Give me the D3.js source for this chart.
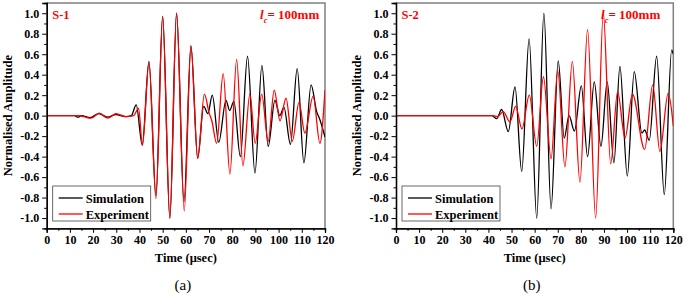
<!DOCTYPE html>
<html>
<head>
<meta charset="utf-8">
<script src="https://cdn.jsdelivr.net/npm/d3@7"></script>
<style>
  body { margin: 0; background: #fff; }
  svg { display: block; }
  text { font-family: "Times New Roman", "Liberation Serif", serif; }
</style>
</head>
<body>
<div id="chart"></div>
<script>
// tick labels and legend names
var xTicks = [0, 10, 20, 30, 40, 50, 60, 70, 80, 90, 100, 110, 120];
var yTicks = [-1.0, -0.8, -0.6, -0.4, -0.2, 0.0, 0.2, 0.4, 0.6, 0.8, 1.0];
var seriesNames = ["Simulation", "Experiment"];
var panelTags = ["S-1", "S-2"];
var captions = ["(a)", "(b)"];

// [time (usec), normalised amplitude] read at the turning points of each trace
var sim1 = [[0,0],[12,0],[13.5,-0.015],[15,0],[18.7,-0.02],[22.5,0.02],[26.2,-0.015],[29.8,0.01],[34,-0.01],[36.5,0],
  [38.6,0.105],[41.2,-0.285],[44.1,0.53],[47.1,-0.78],[50.0,0.97],[53.1,-1.0],[56.0,1.0],[59.2,-0.84],[62.2,0.68],
  [65.1,-0.415],[67.7,0.09],[69.5,0.02],[71.4,0.2],[74.2,-0.26],[77.3,0.15],[78.9,0.05],[80.7,0.14],[83.5,-0.40],
  [86.6,0.58],[89.8,-0.56],[92.8,0.49],[95.5,-0.30],[98.4,0.15],[100.5,0.0],[102.3,0.08],[105.1,-0.28],[108.0,0.46],
  [110.9,-0.46],[114.0,0.30],[116.5,0.03],[117.5,-0.02],[120,-0.21]];

var exp1 = [[0,0],[14,0],[16,-0.01],[19.1,-0.025],[22.7,0.025],[26.3,-0.025],[29.9,0.02],[34.2,-0.01],[37.5,0],
  [39.6,0.07],[41.3,-0.29],[44.1,0.52],[47.1,-0.81],[50.0,0.97],[53.1,-1.0],[56.0,1.0],[59.3,-0.93],[62.2,0.68],
  [65.1,-0.42],[68.0,0.21],[70.0,0.03],[71.2,-0.05],[73.3,-0.27],[76.1,0.41],[79.0,-0.57],[81.9,0.55],[84.6,-0.49],
  [87.6,0.21],[89.9,-0.27],[92.7,0.21],[95.5,-0.25],[98.1,0.25],[100.6,-0.05],[103.2,0.17],[105.9,-0.25],
  [108.8,0.13],[111.3,-0.17],[114.9,0.19],[117.8,-0.27],[120,0.25]];

var sim2 = [[0,0],[41.5,0],[43.6,-0.03],[45.7,0.06],[48.6,-0.155],[51.5,0.28],[54.4,-0.545],[57.6,0.75],[60.9,-1.0],
  [64.0,1.0],[67.1,-0.91],[70.2,0.535],[72.8,-0.22],[74.9,0.0],[77.2,-0.15],[80.2,0.29],[82.9,-0.40],[85.8,0.33],
  [88.7,-0.30],[91.4,0.33],[94.3,-0.46],[96.9,0.48],[100.1,-0.59],[103.1,0.43],[106.4,-0.17],[107.6,-0.14],
  [109.6,-0.24],[112.8,0.58],[116.1,-0.77],[119.3,0.64],[120,0.6]];

var exp2 = [[0,0],[42,0],[44,-0.01],[46.4,0.04],[49.3,-0.06],[51.8,0.09],[54.5,-0.13],[57.7,0.20],[60.9,-0.30],
  [63.8,0.38],[67.1,-0.42],[70.0,0.44],[73.1,-0.50],[76.3,0.53],[79.6,-0.65],[82.9,0.84],[86.4,-1.0],[89.7,1.0],
  [92.9,-0.47],[95.9,0.235],[99.1,-0.22],[102.3,0.21],[107.6,-0.33],[111.1,0.30],[114.2,-0.35],[117.8,0.22],[120,-0.1]];

var width = 685, height = 296;
var RED = "#ff0000";

var svg = d3.select("#chart").append("svg")
    .attr("width", width)
    .attr("height", height);

var panels = [
  {left: 46.7, right: 325, sim: sim1, exp: exp1, tag: panelTags[0], cap: captions[0], labelX: 8, lcX: 260},
  {left: 396, right: 673.3, sim: sim2, exp: exp2, tag: panelTags[1], cap: captions[1], labelX: 357, lcX: 601}
];

var plotTop = 3, plotBottom = 228.3;

panels.forEach(function(p){
  var x = d3.scaleLinear().domain([0, 120]).range([p.left, p.right]);
  var y = d3.scaleLinear().domain([-1.1, 1.1]).range([plotBottom, plotTop]);
  var g = svg.append("g");

  // clip so the traces stay inside the frame
  var clipId = "clip" + p.tag;
  g.append("clipPath").attr("id", clipId).append("rect")
    .attr("x", p.left).attr("y", plotTop).attr("width", p.right - p.left).attr("height", plotBottom - plotTop);

  // frame top + right (grey)
  g.append("path")
    .attr("d", "M" + p.left + "," + plotTop + "H" + p.right + "V" + plotBottom)
    .attr("fill", "none").attr("stroke", "#808080").attr("stroke-width", 1.5);

  var line = d3.line()
    .x(function(d){ return x(d[0]); })
    .y(function(d){ return y(d[1]); })
    .curve(d3.curveMonotoneX);

  var traces = g.append("g").attr("clip-path", "url(#" + clipId + ")");
  traces.append("path").datum(p.sim)
    .attr("d", line).attr("fill", "none").attr("stroke", "#000").attr("stroke-width", 1.3);
  traces.append("path").datum(p.exp)
    .attr("d", line).attr("fill", "none").attr("stroke", RED).attr("stroke-width", 1.3);

  // axes
  var xMinor = d3.range(5, 120, 10);
  var yMinor = d3.range(-0.9, 1.0, 0.2);

  g.append("g").attr("transform", "translate(0," + plotBottom + ")")
    .call(d3.axisBottom(x).tickValues(xMinor).tickSize(2.5).tickFormat(""))
    .call(styleAxis);
  g.append("g").attr("transform", "translate(" + p.left + ",0)")
    .call(d3.axisLeft(y).tickValues(yMinor).tickSize(2.5).tickFormat(""))
    .call(styleAxis);

  g.append("g").attr("transform", "translate(0," + plotBottom + ")")
    .call(d3.axisBottom(x).tickValues(xTicks).tickSize(4.5).tickPadding(3).tickFormat(d3.format("d")))
    .call(styleAxis);
  g.append("g").attr("transform", "translate(" + p.left + ",0)")
    .call(d3.axisLeft(y).tickValues(yTicks).tickSize(4.5).tickPadding(3)
      .tickFormat(function(d){ return d.toFixed(1); }))
    .call(styleAxis);

  // axis titles
  g.append("text")
    .attr("x", (p.left + p.right) / 2).attr("y", 262)
    .attr("text-anchor", "middle")
    .attr("font-size", 12.5).attr("font-weight", "bold")
    .text("Time (\u03bcsec)");
  g.append("text")
    .attr("transform", "translate(" + (p.labelX + 4) + "," + ((plotTop + plotBottom) / 2) + ") rotate(-90)")
    .attr("text-anchor", "middle")
    .attr("font-size", 12.5).attr("font-weight", "bold")
    .text("Normalised Amplitude");

  // caption
  g.append("text")
    .attr("x", (p.left + p.right) / 2 - 3).attr("y", 290)
    .attr("text-anchor", "middle")
    .attr("font-size", 15)
    .text(p.cap);

  // panel tag + l_c label
  g.append("text")
    .attr("x", p.left + 5.5).attr("y", 18.5)
    .attr("fill", RED).attr("font-size", 12.5).attr("font-weight", "bold")
    .text(p.tag);
  var lc = g.append("text")
    .attr("x", p.lcX).attr("y", 18.5)
    .attr("fill", RED).attr("font-size", 13).attr("font-weight", "bold");
  lc.append("tspan").attr("font-style", "italic").text("l");
  lc.append("tspan").attr("font-style", "italic").attr("font-size", 8.5).attr("dy", 4).text("c");
  lc.append("tspan").attr("dy", -4).text("= 100mm");

  // legend
  var lx = p.left + 6, ly = 186;
  var leg = g.append("g");
  leg.append("rect")
    .attr("x", lx).attr("y", ly).attr("width", 98).attr("height", 35)
    .attr("fill", "#fff").attr("stroke", "#444").attr("stroke-width", 0.8);
  [["#000", seriesNames[0]], [RED, seriesNames[1]]].forEach(function(s, i){
    var yy = ly + 12 + i * 16;
    leg.append("line")
      .attr("x1", lx + 6).attr("x2", lx + 30).attr("y1", yy).attr("y2", yy)
      .attr("stroke", s[0]).attr("stroke-width", 1.3);
    leg.append("text")
      .attr("x", lx + 33).attr("y", yy + 4.5)
      .attr("font-size", 12.5).attr("font-weight", "bold")
      .text(s[1]);
  });
});

function styleAxis(sel){
  sel.select(".domain").attr("stroke", "#000").attr("stroke-width", 1.3);
  sel.selectAll(".tick line").attr("stroke", "#000").attr("stroke-width", 1);
  sel.selectAll(".tick text")
    .attr("fill", "#000")
    .attr("font-family", "'Times New Roman', 'Liberation Serif', serif")
    .attr("font-size", 12).attr("font-weight", "bold");
}
</script>
</body>
</html>
